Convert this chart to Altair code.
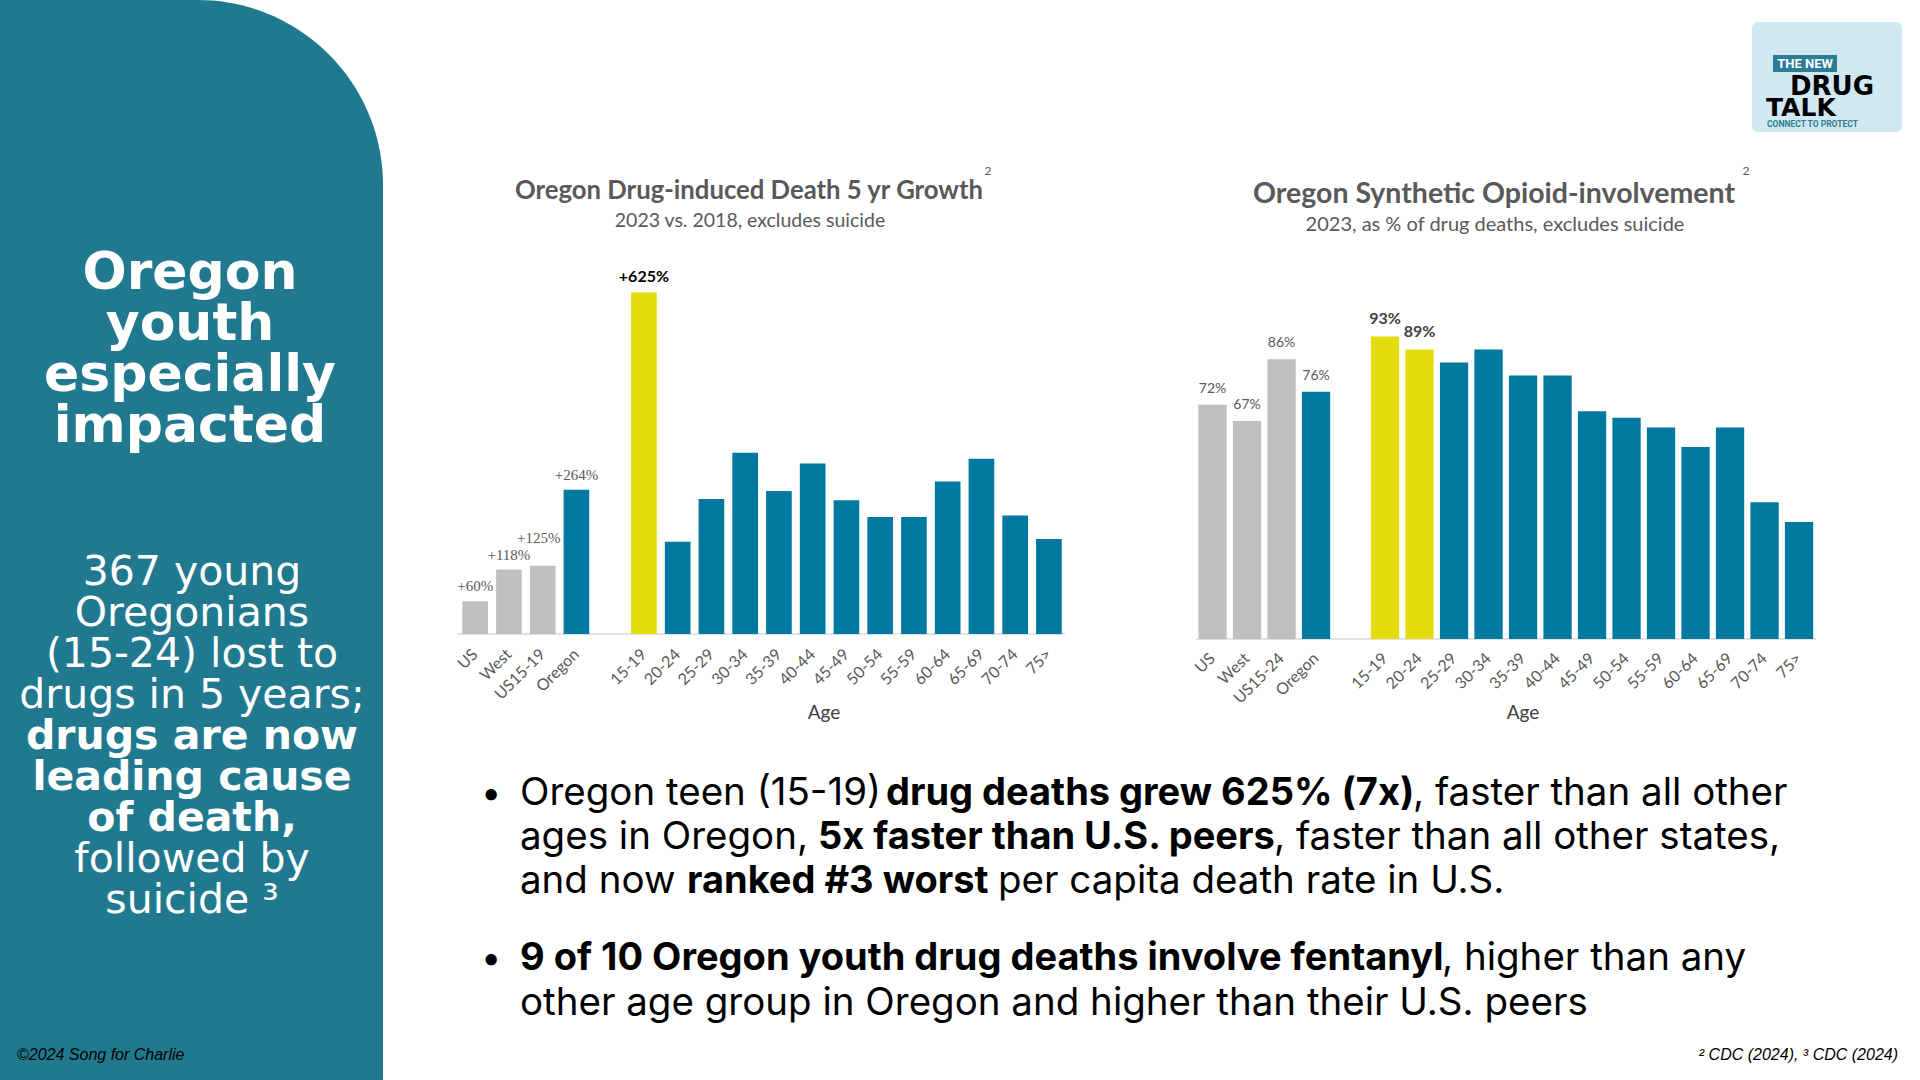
import altair as alt
import pandas as pd

# ---------------- data ----------------
LEFT_GROUPS = ["US", "West", "US15-19", "Oregon"]
LEFT_GROUP_GROWTH = [60, 118, 125, 264]
AGE_BANDS = ["15-19", "20-24", "25-29", "30-34", "35-39", "40-44", "45-49",
             "50-54", "55-59", "60-64", "65-69", "70-74", "75>"]
LEFT_AGE_GROWTH = [625, 169, 247, 332, 262, 312, 245, 214, 214, 279, 321, 217, 174]

RIGHT_GROUPS = ["US", "West", "US15-24", "Oregon"]
RIGHT_GROUP_SHARE = [72, 67, 86, 76]
RIGHT_AGE_SHARE = [93, 89, 85, 89, 81, 81, 70, 68, 65, 59, 65, 42, 36]

LEFT_GROUP_KIND = ["gray", "gray", "gray", "teal"]
LEFT_AGE_KIND = ["yellow"] + ["teal"] * 12
RIGHT_GROUP_KIND = ["gray", "gray", "gray", "teal"]
RIGHT_AGE_KIND = ["yellow", "yellow"] + ["teal"] * 11

SPACER = " "

KIND_DOMAIN = ["gray", "teal", "yellow"]
KIND_COLORS = ["#BFBFBF", "#0079A0", "#E4DC0F"]

TEAL_PANEL = "#21798F"
CHART_GRAY = "#595959"
FONT_CHART = "Lato"
FONT_PANEL = "DejaVu Sans"
FONT_BULLET = "Inter"

# ---------------- tables ----------------
left_df = pd.DataFrame({
    "cat": LEFT_GROUPS + AGE_BANDS,
    "value": LEFT_GROUP_GROWTH + LEFT_AGE_GROWTH,
    "kind": LEFT_GROUP_KIND + LEFT_AGE_KIND,
})
left_df["label"] = ["+%d%%" % v for v in left_df["value"]]

right_df = pd.DataFrame({
    "cat": RIGHT_GROUPS + AGE_BANDS,
    "value": RIGHT_GROUP_SHARE + RIGHT_AGE_SHARE,
    "kind": RIGHT_GROUP_KIND + RIGHT_AGE_KIND,
})
right_df["label"] = ["%d%%" % round(v) for v in right_df["value"]]

left_x = alt.Scale(domain=LEFT_GROUPS + [SPACER] + AGE_BANDS,
                   range=[458.3, 1065.8], paddingInner=0.24, paddingOuter=0.12)
left_y = alt.Scale(domain=[0, 625], range=[634, 292.6], nice=False, zero=True)
right_x = alt.Scale(domain=RIGHT_GROUPS + [SPACER] + AGE_BANDS,
                    range=[1195.3, 1816.3], paddingInner=0.18, paddingOuter=0.09)
right_y = alt.Scale(domain=[0, 100], range=[639, 313.7], nice=False, zero=True)
color_enc = alt.Color("kind:N", scale=alt.Scale(domain=KIND_DOMAIN, range=KIND_COLORS), legend=None)

one = pd.DataFrame({"k": [0]})


def txt(text, x, y, size, color="black", weight="normal", font=FONT_CHART,
        align="left", baseline="alphabetic", style="normal"):
    return alt.Chart(one).mark_text(
        text=text, fontSize=size, color=color, fontWeight=weight, font=font,
        align=align, baseline=baseline, fontStyle=style,
    ).encode(x=alt.value(x), y=alt.value(y))


def box(x, x2, y, y2, color, **kw):
    return alt.Chart(one).mark_rect(color=color, **kw).encode(
        x=alt.value(x), x2=alt.value(x2), y=alt.value(y), y2=alt.value(y2))


layers = []

# ---------------- left teal panel ----------------
layers.append(box(0, 383, 0, 1080, TEAL_PANEL, cornerRadiusTopRight=185))
for i, line in enumerate(["Oregon", "youth", "especially", "impacted"]):
    layers.append(txt(line, 190, 289 + 51 * i, 52, "white", "bold", FONT_PANEL, "center"))
body = [("367 young", "normal"), ("Oregonians", "normal"), ("(15-24) lost to", "normal"),
        ("drugs in 5 years;", "normal"), ("drugs are now", "bold"),
        ("leading cause", "bold"), ("of death,", "bold"), ("followed by", "normal"),
        ("suicide \u00b3", "normal")]
for i, (line, w) in enumerate(body):
    layers.append(txt(line, 192, 585 + 41 * i, 41, "white", w, FONT_PANEL, "center"))
layers.append(txt("\u00a92024 Song for Charlie", 17, 1060, 16, "black", "normal",
                  "Liberation Sans", "left", style="italic"))

# ---------------- logo ----------------
layers.append(box(1752, 1902, 22, 132, "#CFE8F1", cornerRadius=6))
layers.append(box(1773, 1837, 55, 72, "#2B7C95"))
layers.append(txt("THE NEW", 1805, 68, 13, "white", "bold", "Roboto", "center"))
layers.append(txt("DRUG", 1790, 95, 26, "black", "bold", FONT_PANEL, "left"))
layers.append(txt("TALK", 1766, 116, 25, "black", "bold", FONT_PANEL, "left"))
layers.append(txt("CONNECT TO PROTECT", 1767, 127, 8.5, "#2B7C95", "bold", "Roboto", "left"))

# ---------------- left chart ----------------
layers.append(alt.Chart(one).mark_rule(color="#D9D9D9", strokeWidth=1.5).encode(
    x=alt.value(458), x2=alt.value(1065), y=alt.value(634)))
layers.append(alt.Chart(left_df).mark_bar().encode(
    x=alt.X("cat:N", scale=left_x, axis=None),
    y=alt.Y("value:Q", scale=left_y, axis=None),
    color=color_enc))
lab_base = alt.Chart(left_df).encode(
    x=alt.X("cat:N", scale=left_x, axis=None),
    y=alt.Y("value:Q", scale=left_y, axis=None),
    text="label:N")
layers.append(lab_base.transform_filter(
    alt.FieldOneOfPredicate(field="cat", oneOf=["US", "West", "Oregon"])
).mark_text(font="Liberation Serif", fontSize=15, color=CHART_GRAY, baseline="middle", dy=-15))
layers.append(lab_base.transform_filter(
    alt.FieldEqualPredicate(field="cat", equal="US15-19")
).mark_text(font="Liberation Serif", fontSize=15, color=CHART_GRAY, baseline="middle", dy=-28, dx=-4))
layers.append(lab_base.transform_filter(
    alt.FieldEqualPredicate(field="cat", equal="15-19")
).mark_text(font=FONT_CHART, fontSize=16, fontWeight="bold", color="black", baseline="middle", dy=-16))
layers.append(alt.Chart(left_df).mark_text(
    font=FONT_CHART, fontSize=16, color=CHART_GRAY, angle=315, align="right", baseline="middle"
).encode(x=alt.X("cat:N", scale=left_x, axis=None), y=alt.value(652), text="cat:N"))
layers.append(txt("Age", 824, 719, 19, "#404040", "normal", FONT_CHART, "center"))
layers.append(txt("Oregon Drug-induced Death 5 yr Growth", 749, 199, 25.7, CHART_GRAY, "bold", FONT_CHART, "center"))
layers.append(txt("2", 988, 175, 12, CHART_GRAY, "normal", FONT_CHART, "center"))
layers.append(txt("2023 vs. 2018, excludes suicide", 750, 227, 19.5, CHART_GRAY, "normal", FONT_CHART, "center"))

# ---------------- right chart ----------------
layers.append(alt.Chart(one).mark_rule(color="#D9D9D9", strokeWidth=1.5).encode(
    x=alt.value(1196), x2=alt.value(1816), y=alt.value(639)))
layers.append(alt.Chart(right_df).mark_bar().encode(
    x=alt.X("cat:N", scale=right_x, axis=None),
    y=alt.Y("value:Q", scale=right_y, axis=None),
    color=color_enc))
rlab = alt.Chart(right_df).encode(
    x=alt.X("cat:N", scale=right_x, axis=None),
    y=alt.Y("value:Q", scale=right_y, axis=None),
    text="label:N")
layers.append(rlab.transform_filter(
    alt.FieldOneOfPredicate(field="cat", oneOf=RIGHT_GROUPS)
).mark_text(font=FONT_CHART, fontSize=14, color=CHART_GRAY, baseline="middle", dy=-16))
layers.append(rlab.transform_filter(
    alt.FieldOneOfPredicate(field="cat", oneOf=["15-19", "20-24"])
).mark_text(font=FONT_CHART, fontSize=16, fontWeight="bold", color="#404040", baseline="middle", dy=-17))
layers.append(alt.Chart(right_df).mark_text(
    font=FONT_CHART, fontSize=16, color=CHART_GRAY, angle=315, align="right", baseline="middle"
).encode(x=alt.X("cat:N", scale=right_x, axis=None), y=alt.value(656), text="cat:N"))
layers.append(txt("Age", 1523, 719, 19, "#404040", "normal", FONT_CHART, "center"))
layers.append(txt("Oregon Synthetic Opioid-involvement", 1494, 203, 28.5, CHART_GRAY, "bold", FONT_CHART, "center"))
layers.append(txt("2", 1746, 175, 12, CHART_GRAY, "normal", FONT_CHART, "center"))
layers.append(txt("2023,  as % of drug deaths, excludes suicide", 1495, 231, 20, CHART_GRAY, "normal", FONT_CHART, "center"))

# ---------------- bullets ----------------
REG, BOLD = 38.5, 38
bullet_lines = [
    (805, [("Oregon teen (15-19)", "normal", 520), ("drug deaths grew 625% (7x)", "bold", 886),
           (", faster than all other", "normal", 1413)]),
    (849, [("ages in Oregon,", "normal", 520), ("5x faster than U.S. peers", "bold", 818),
           (", faster than all other states,", "normal", 1274)]),
    (893, [("and now", "normal", 520), ("ranked #3 worst", "bold", 687),
           ("per capita death rate in U.S.", "normal", 998)]),
    (970, [("9 of 10 Oregon youth drug deaths involve fentanyl", "bold", 520),
           (", higher than any", "normal", 1442)]),
    (1015, [("other age group in Oregon and higher than their U.S. peers", "normal", 520)]),
]
for y, segs in bullet_lines:
    for s, w, x in segs:
        layers.append(txt(s, x, y, BOLD if w == "bold" else REG, "black", w, FONT_BULLET, "left"))
for y in (805, 970):
    layers.append(txt("\u2022", 481, y, 36, "black", "normal", FONT_BULLET, "left"))

layers.append(txt("\u00b2 CDC (2024), \u00b3 CDC (2024)", 1898, 1060, 16, "black", "normal",
                  "Liberation Sans", "right", style="italic"))

chart = alt.layer(*layers).resolve_scale(
    x="independent", y="independent", color="independent"
).properties(
    width=1920, height=1080, padding=0, autosize="none", background="white"
).configure_view(stroke=None)

chart.save("out.html", embed_options={"renderer": "svg", "actions": False})
